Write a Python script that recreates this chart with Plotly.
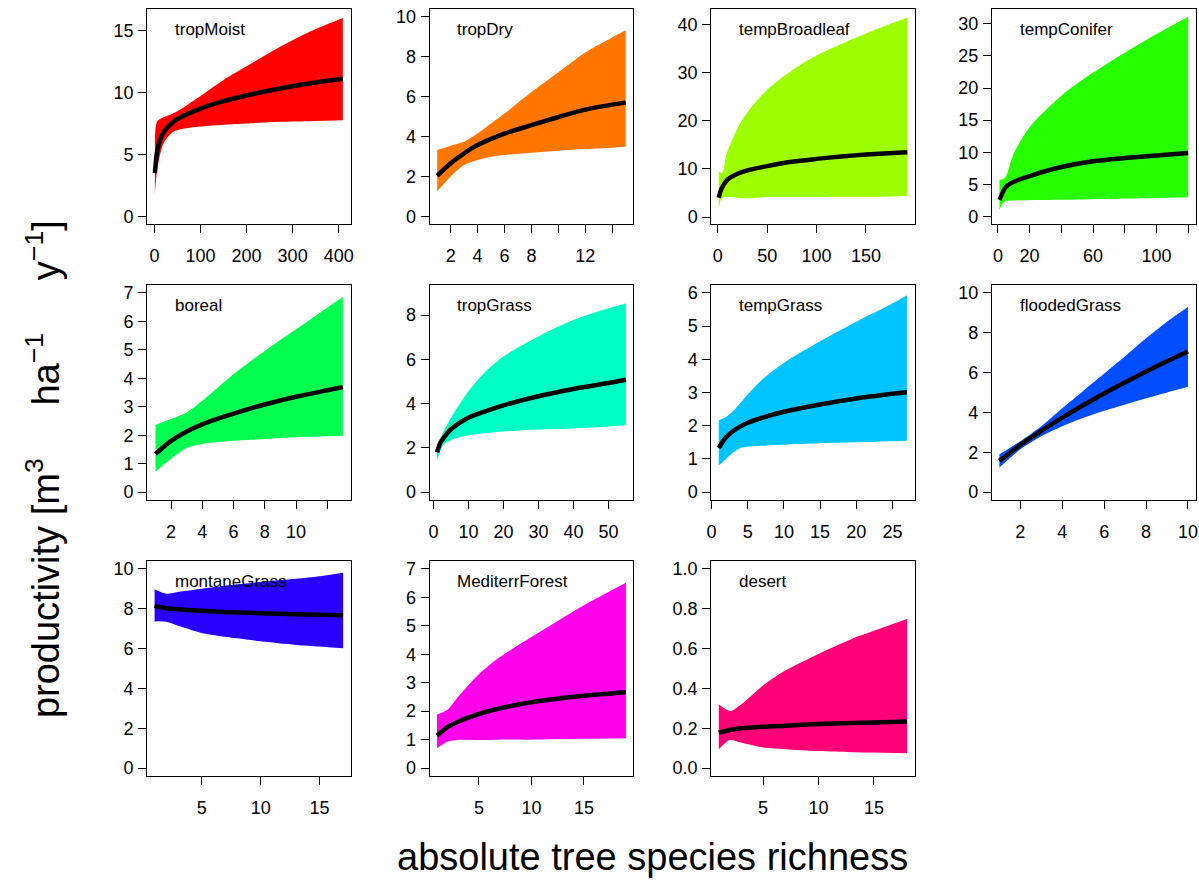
import plotly.graph_objects as go

# ---- biome curves: species richness (x), fitted mean, lower / upper bounds ----
trop_moist_x = [1, 5, 10, 20, 40, 60, 100, 150, 200, 250, 300, 350, 409]
trop_moist_mean = [3.5, 5.0, 5.9, 6.8, 7.6, 8.05, 8.7, 9.3, 9.75, 10.15, 10.5, 10.8, 11.1]
trop_moist_hi = [6.5, 7.6, 7.8, 8.0, 8.3, 8.7, 9.7, 11.0, 12.1, 13.2, 14.2, 15.1, 16.0]
trop_moist_lo = [1.8, 3.5, 4.6, 5.9, 6.8, 7.05, 7.25, 7.4, 7.5, 7.6, 7.65, 7.7, 7.75]

trop_dry_x = [1, 2, 3, 4, 5, 6, 8, 10, 12, 14, 15]
trop_dry_mean = [2.03, 2.66, 3.16, 3.57, 3.88, 4.15, 4.57, 4.98, 5.35, 5.6, 5.7]
trop_dry_hi = [3.32, 3.54, 3.74, 4.15, 4.65, 5.15, 6.23, 7.23, 8.22, 8.97, 9.33]
trop_dry_lo = [1.25, 2.0, 2.57, 2.82, 2.99, 3.07, 3.19, 3.29, 3.37, 3.44, 3.49]

temp_broadleaf_x = [1, 3, 5, 8, 10, 20, 30, 50, 75, 100, 125, 150, 192]
temp_broadleaf_mean = [4.0, 5.5, 6.4, 7.3, 7.8, 9.0, 9.7, 10.6, 11.5, 12.1, 12.6, 13.0, 13.5]
temp_broadleaf_hi = [9.5, 9.2, 9.3, 12.5, 13.8, 18.5, 21.8, 26.5, 30.5, 33.6, 36.0, 38.2, 41.5]
temp_broadleaf_lo = [1.7, 3.5, 4.0, 4.1, 4.15, 4.0, 3.85, 4.15, 4.15, 4.15, 4.2, 4.2, 4.4]

temp_conifer_x = [1, 3, 5, 10, 20, 40, 60, 80, 100, 120]
temp_conifer_mean = [2.6, 3.7, 4.6, 5.4, 6.3, 7.7, 8.6, 9.1, 9.5, 9.9]
temp_conifer_hi = [5.7, 5.8, 6.2, 9.8, 13.9, 18.8, 22.4, 25.5, 28.4, 31.1]
temp_conifer_lo = [1.1, 2.0, 2.4, 2.5, 2.55, 2.6, 2.7, 2.8, 2.9, 3.0]

boreal_x = [1, 2, 3, 4, 5, 6, 8, 10, 12, 13]
boreal_mean = [1.34, 1.8, 2.13, 2.38, 2.58, 2.76, 3.08, 3.35, 3.58, 3.69]
boreal_hi = [2.36, 2.57, 2.8, 3.21, 3.68, 4.14, 4.96, 5.72, 6.48, 6.85]
boreal_lo = [0.72, 1.17, 1.55, 1.69, 1.76, 1.81, 1.87, 1.93, 1.96, 1.98]

trop_grass_x = [1, 2, 3, 5, 10, 15, 20, 30, 40, 50, 55]
trop_grass_mean = [1.8, 2.24, 2.47, 2.84, 3.36, 3.66, 3.92, 4.33, 4.66, 4.93, 5.08]
trop_grass_hi = [2.1, 2.47, 2.77, 3.36, 4.56, 5.46, 6.13, 7.03, 7.77, 8.3, 8.52]
trop_grass_lo = [1.39, 1.87, 2.17, 2.36, 2.57, 2.67, 2.74, 2.83, 2.88, 2.96, 3.03]

temp_grass_x = [1, 2, 3, 4, 5, 7, 10, 15, 20, 25, 27]
temp_grass_mean = [1.33, 1.65, 1.84, 1.98, 2.09, 2.24, 2.42, 2.64, 2.82, 2.96, 3.01]
temp_grass_hi = [2.16, 2.26, 2.44, 2.69, 2.94, 3.39, 3.89, 4.54, 5.13, 5.68, 5.93]
temp_grass_lo = [0.8, 1.0, 1.2, 1.33, 1.37, 1.4, 1.43, 1.47, 1.5, 1.53, 1.55]

flooded_grass_x = [1, 2, 3, 4, 5, 6, 7, 8, 9, 10]
flooded_grass_mean = [1.57, 2.37, 3.08, 3.74, 4.36, 4.95, 5.51, 6.05, 6.57, 7.06]
flooded_grass_hi = [1.9, 2.56, 3.31, 4.21, 5.08, 5.95, 6.82, 7.72, 8.55, 9.29]
flooded_grass_lo = [1.24, 2.15, 2.81, 3.31, 3.72, 4.08, 4.4, 4.71, 5.0, 5.29]

montane_grass_x = [1, 2, 3, 5, 8, 10, 13, 15, 17]
montane_grass_mean = [8.14, 8.02, 7.97, 7.89, 7.81, 7.77, 7.72, 7.7, 7.67]
montane_grass_hi = [8.97, 8.75, 8.84, 9.0, 9.22, 9.34, 9.5, 9.63, 9.8]
montane_grass_lo = [7.36, 7.34, 7.14, 6.78, 6.51, 6.36, 6.18, 6.1, 6.01]

mediterr_forest_x = [1, 2, 3, 5, 7, 10, 13, 15, 19]
mediterr_forest_mean = [1.14, 1.44, 1.63, 1.9, 2.1, 2.31, 2.46, 2.54, 2.66]
mediterr_forest_hi = [1.88, 2.05, 2.5, 3.3, 3.9, 4.6, 5.28, 5.72, 6.51]
mediterr_forest_lo = [0.7, 0.93, 0.99, 0.99, 1.0, 1.0, 1.02, 1.03, 1.05]

desert_x = [1, 2, 3, 5, 7, 10, 13, 15, 18]
desert_mean = [0.178, 0.191, 0.2, 0.208, 0.213, 0.221, 0.226, 0.229, 0.234]
desert_hi = [0.32, 0.286, 0.319, 0.415, 0.49, 0.573, 0.648, 0.689, 0.748]
desert_lo = [0.095, 0.141, 0.128, 0.103, 0.095, 0.086, 0.08, 0.078, 0.075]

biome_names = ["tropMoist", "tropDry", "tempBroadleaf", "tempConifer",
               "boreal", "tropGrass", "tempGrass", "floodedGrass",
               "montaneGrass", "MediterrForest", "desert"]

# rainbow(13) hues, skipping yellow and purple
biome_colors = ["#FF0000", "#FF7600", "#9DFF00", "#27FF00",
                "#00FF4E", "#00FFC4", "#00C4FF", "#004EFF",
                "#2700FF", "#FF00EB", "#FF0076"]

# ---- axis ticks ----
x_tickvals = [
    [0, 100, 200, 300, 400],
    [2, 4, 6, 8, 10, 12, 14],
    [0, 50, 100, 150],
    [0, 20, 40, 60, 80, 100, 120],
    [2, 4, 6, 8, 10, 12],
    [0, 10, 20, 30, 40, 50],
    [0, 5, 10, 15, 20, 25],
    [2, 4, 6, 8, 10],
    [5, 10, 15],
    [5, 10, 15],
    [5, 10, 15],
]
x_ticktext = [
    ["0", "100", "200", "300", "400"],
    ["2", "4", "6", "8", "", "12", ""],
    ["0", "50", "100", "150"],
    ["0", "20", "", "60", "", "100", ""],
    ["2", "4", "6", "8", "10", ""],
    ["0", "10", "20", "30", "40", "50"],
    ["0", "5", "10", "15", "20", "25"],
    ["2", "4", "6", "8", "10"],
    ["5", "10", "15"],
    ["5", "10", "15"],
    ["5", "10", "15"],
]
y_tickvals = [
    [0, 5, 10, 15],
    [0, 2, 4, 6, 8, 10],
    [0, 10, 20, 30, 40],
    [0, 5, 10, 15, 20, 25, 30],
    [0, 1, 2, 3, 4, 5, 6, 7],
    [0, 2, 4, 6, 8],
    [0, 1, 2, 3, 4, 5, 6],
    [0, 2, 4, 6, 8, 10],
    [0, 2, 4, 6, 8, 10],
    [0, 1, 2, 3, 4, 5, 6, 7],
    [0.0, 0.2, 0.4, 0.6, 0.8, 1.0],
]
y_ticktext = [
    None, None, None, None, None, None, None, None, None, None,
    ["0.0", "0.2", "0.4", "0.6", "0.8", "1.0"],
]

series = [
    (trop_moist_x, trop_moist_mean, trop_moist_lo, trop_moist_hi),
    (trop_dry_x, trop_dry_mean, trop_dry_lo, trop_dry_hi),
    (temp_broadleaf_x, temp_broadleaf_mean, temp_broadleaf_lo, temp_broadleaf_hi),
    (temp_conifer_x, temp_conifer_mean, temp_conifer_lo, temp_conifer_hi),
    (boreal_x, boreal_mean, boreal_lo, boreal_hi),
    (trop_grass_x, trop_grass_mean, trop_grass_lo, trop_grass_hi),
    (temp_grass_x, temp_grass_mean, temp_grass_lo, temp_grass_hi),
    (flooded_grass_x, flooded_grass_mean, flooded_grass_lo, flooded_grass_hi),
    (montane_grass_x, montane_grass_mean, montane_grass_lo, montane_grass_hi),
    (mediterr_forest_x, mediterr_forest_mean, mediterr_forest_lo, mediterr_forest_hi),
    (desert_x, desert_mean, desert_lo, desert_hi),
]

# axis limits (R style: data range padded by 4 %)
x_ranges = [[-16, 426], [0.44, 15.56], [-6.6, 199.6], [-3.8, 124.6],
            [0.46, 13.5], [-1.1, 57.1], [-0.04, 28.1], [0.64, 10.36],
            [0.36, 17.64], [0.3, 19.7], [0.32, 18.7]]
y_ranges = [[-0.62, 16.72], [-0.4, 10.4], [-1.5, 43.3], [-1.2, 32.3],
            [-0.28, 7.28], [-0.36, 9.36], [-0.24, 6.24], [-0.4, 10.4],
            [-0.4, 10.4], [-0.28, 7.28], [-0.04, 1.04]]

W, H = 1199, 880
col_left = [143, 427.5, 711, 993.5]
box_w = 205
row_top = [7, 284.5, 562]
box_h = 216.5

FONT = "Liberation Sans, Arial, sans-serif"
GAP = "\u00a0" * 5

fig = go.Figure()
layout = {}
annotations = []

for i, (xs, mean, lo, hi) in enumerate(series):
    r, c = divmod(i, 4)
    n = "" if i == 0 else str(i + 1)
    xa, ya = "x" + n, "y" + n
    col = biome_colors[i]

    fig.add_trace(go.Scatter(x=xs, y=lo, xaxis=xa, yaxis=ya, mode="lines",
                             line=dict(width=0, color=col, shape="spline", smoothing=0.8),
                             hoverinfo="skip", showlegend=False))
    fig.add_trace(go.Scatter(x=xs, y=hi, xaxis=xa, yaxis=ya, mode="lines",
                             line=dict(width=0, color=col, shape="spline", smoothing=0.8),
                             fill="tonexty", fillcolor=col,
                             hoverinfo="skip", showlegend=False))
    fig.add_trace(go.Scatter(x=xs, y=mean, xaxis=xa, yaxis=ya, mode="lines",
                             line=dict(width=4.5, color="black", shape="spline", smoothing=0.8),
                             showlegend=False))

    x0 = col_left[c] / W
    x1 = (col_left[c] + box_w) / W
    y1 = 1 - row_top[r] / H
    y0 = 1 - (row_top[r] + box_h) / H

    common = dict(showgrid=False, zeroline=False, showline=True, mirror=True,
                  linecolor="black", linewidth=1, ticks="outside", ticklen=8,
                  tickwidth=1, tickcolor="black",
                  tickfont=dict(family=FONT, size=18, color="black"))

    layout["xaxis" + n] = dict(domain=[x0, x1], anchor=ya, range=x_ranges[i],
                               tickmode="array", tickvals=x_tickvals[i],
                               ticktext=x_ticktext[i], ticklabelstandoff=7,
                               **common)
    yax = dict(domain=[y0, y1], anchor=xa, range=y_ranges[i],
               tickmode="array", tickvals=y_tickvals[i], ticklabelstandoff=1,
               **common)
    if y_ticktext[i] is not None:
        yax["ticktext"] = y_ticktext[i]
    layout["yaxis" + n] = yax

    annotations.append(dict(text=biome_names[i], xref="paper", yref="paper",
                            x=(col_left[c] + 26) / W, y=1 - (row_top[r] + 21) / H,
                            xanchor="left", yanchor="middle", showarrow=False,
                            font=dict(family=FONT, size=17, color="black")))

annotations.append(dict(text="absolute tree species richness", xref="paper", yref="paper",
                        x=652 / W, y=1 - 860 / H, xanchor="center", yanchor="middle",
                        showarrow=False, font=dict(family=FONT, size=38, color="black")))
annotations.append(dict(text="productivity [m<sup>3</sup>" + GAP + "ha<sup>\u22121</sup>"
                        + GAP + "y<sup>\u22121</sup>]",
                        xref="paper", yref="paper", x=39 / W, y=1 - 470 / H,
                        xanchor="center", yanchor="middle", textangle=-90,
                        showarrow=False, font=dict(family=FONT, size=38, color="black")))

fig.update_layout(width=W, height=H, margin=dict(l=0, r=0, t=0, b=0),
                  autosize=False, paper_bgcolor="white", plot_bgcolor="white",
                  annotations=annotations, **layout)

fig.write_html("out.html")
